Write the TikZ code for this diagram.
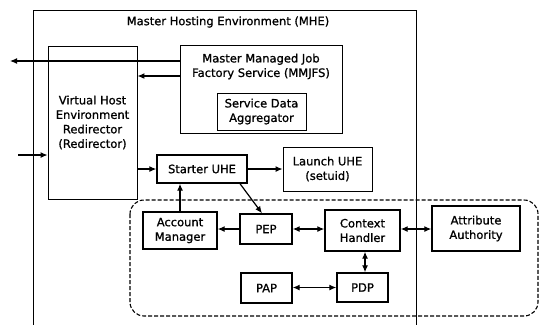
\documentclass[tikz,border=0pt]{standalone}
\usepackage{fontspec}
\newfontfamily\diafont[FakeBold=1.0]{DejaVu Sans}
\usetikzlibrary{arrows.meta}
\begin{document}
\begin{tikzpicture}[x=1pt,y=-1pt,
  every node/.style={font=\diafont\fontsize{11.5}{14.5}\selectfont, align=center, inner sep=0pt},
  box/.style={draw, line width=1.4pt, minimum width=#1},
  thinbox/.style={draw, line width=0.9pt},
  arr/.style={line width=1.2pt, -{Latex[length=7pt,width=6pt]}},
  darr/.style={line width=1.2pt, {Latex[length=7pt,width=6pt]}-{Latex[length=7pt,width=6pt]}}
]
\useasboundingbox (0,0) rectangle (540,324);
% MHE outer box (open at bottom)
\draw[line width=0.9pt] (33,330) -- (33,10) -- (416,10) -- (416,330);
\node (mhe) at (228,22) {Master Hosting Environment (MHE)};
% Virtual Host
\node[thinbox, minimum width=89pt, minimum height=153pt] (vh) at (92.5,122.5)
  {Virtual Host\\Environment\\Redirector\\(Redirector)};
% MMJFS
\node[thinbox, minimum width=162pt, minimum height=88pt] (mmjfs) at (261,89) {};
\node (mmjfsT) at (261,66.5) {Master Managed Job\\Factory Service (MMJFS)};
\node[thinbox, minimum width=89pt, minimum height=37pt] (sda) at (261.5,111.5) {Service Data\\Aggregator};
% Starter and Launch
\node[box=90pt, minimum height=28pt] (starter) at (202,169) {Starter UHE};
\node[thinbox, minimum width=89pt, minimum height=44pt] (launch) at (327.5,169) {Launch UHE\\(setuid)};
% dashed region
\draw[line width=1.1pt, dash pattern=on 4pt off 2pt, rounded corners=14pt] (130,200) rectangle (538,316);
% inner nodes
\node[box=74pt, minimum height=37pt] (am) at (180,230.5) {Account\\Manager};
\node[box=52pt, minimum height=30pt] (pep) at (266,229) {PEP};
\node[box=75pt, minimum height=41pt] (ch) at (362.5,230.5) {Context\\Handler};
\node[box=88pt, minimum height=45pt] (aa) at (476,228.5) {Attribute\\Authority};
\node[box=51pt, minimum height=30pt] (pap) at (266.5,288) {PAP};
\node[box=51pt, minimum height=29pt] (pdp) at (362.5,287.5) {PDP};
% connectors
\coordinate (outL) at (10,61);
\coordinate (inL) at (18,155);
\draw[arr] (mmjfs.west |- 0,61) -- (outL);
\draw[arr] (mmjfs.west |- 0,76) -- (vh.east |- 0,76);
\draw[arr] (inL) -- (vh.west |- inL);
\draw[arr] (vh.east |- 0,169) -- (starter.west);
\draw[arr] (starter.east) -- (launch.west);
\draw[arr] (am.north) -- (starter.south -| am.north);
\draw[arr] (pep.west) -- (am.east |- pep.west);
\draw[arr] (starter.south -| 240,0) -- (pep.north -| 262,0);
\draw[darr] (pep.east) -- (ch.west |- pep.east);
\draw[darr] (ch.east |- 0,229) -- (aa.west |- 0,229);
\draw[darr] (ch.south -| 365,0) -- (pdp.north -| 365,0);
\draw[darr] (pap.east |- 0,287.5) -- (pdp.west |- 0,287.5);
\end{tikzpicture}
\end{document}
